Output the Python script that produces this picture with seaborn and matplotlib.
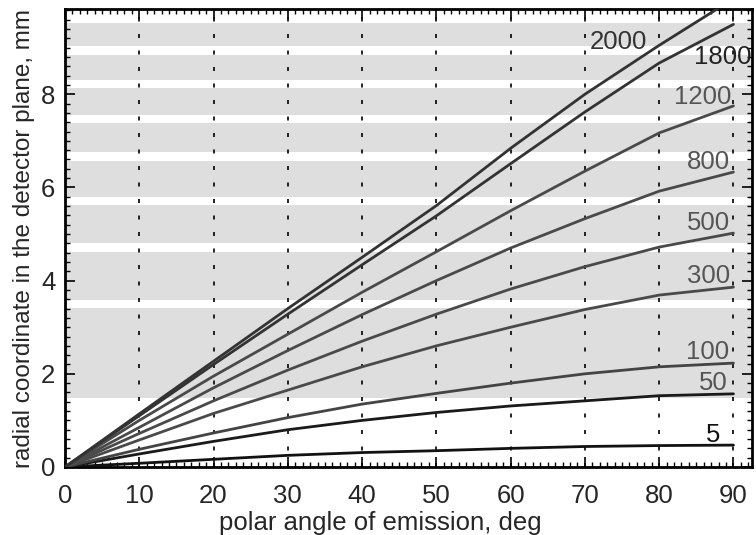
import matplotlib
matplotlib.use("Agg")
import matplotlib.pyplot as plt
import matplotlib.ticker as mticker
import seaborn as sns
import pandas as pd

# ---- data ----
angles = [0, 10, 20, 30, 40, 50, 60, 70, 80, 90]
energies = ["5", "50", "100", "300", "500", "800", "1200", "1800", "2000"]
r_5    = [0, 0.08, 0.165, 0.25, 0.31, 0.35, 0.40, 0.44, 0.46, 0.47]
r_50   = [0, 0.28, 0.55, 0.80, 1.00, 1.17, 1.31, 1.42, 1.53, 1.57]
r_100  = [0, 0.38, 0.73, 1.06, 1.35, 1.58, 1.80, 2.00, 2.15, 2.23]
r_300  = [0, 0.58, 1.15, 1.65, 2.15, 2.60, 3.00, 3.38, 3.69, 3.86]
r_500  = [0, 0.72, 1.42, 2.08, 2.70, 3.28, 3.82, 4.30, 4.72, 5.02]
r_800  = [0, 0.85, 1.70, 2.50, 3.27, 4.00, 4.70, 5.33, 5.92, 6.33]
r_1200 = [0, 1.00, 1.95, 2.85, 3.75, 4.62, 5.50, 6.35, 7.17, 7.75]
r_1800 = [0, 1.10, 2.20, 3.28, 4.34, 5.39, 6.51, 7.62, 8.67, 9.50]
r_2000 = [0, 1.14, 2.27, 3.40, 4.50, 5.61, 6.84, 8.00, 9.05, 10.05]
series = [r_5, r_50, r_100, r_300, r_500, r_800, r_1200, r_1800, r_2000]

# detector ring bands (radial extents, mm)
band_lo = [1.48, 3.58, 4.81, 5.79, 6.76, 7.55, 8.30, 9.03]
band_hi = [3.41, 4.61, 5.62, 6.57, 7.38, 8.13, 8.84, 9.53]

# curve labels
label_x = [87.3, 87.3, 86.5, 86.6, 86.6, 86.6, 85.9, 88.6, 74.5]
label_y = [0.69, 1.80, 2.47, 4.10, 5.24, 6.55, 7.94, 8.80, 9.12]
label_c = ["#111111", "#555555", "#555555", "#555555", "#555555",
           "#555555", "#555555", "#222222", "#333333"]

rows = []
for e, vals in zip(energies, series):
    for a, v in zip(angles, vals):
        rows.append({"angle": a, "r": v, "energy": e})
df = pd.DataFrame(rows)

sns.set_theme(style="white")
plt.rcParams["font.family"] = ["Liberation Sans", "DejaVu Sans"]

fig = plt.figure(figsize=(7.56, 5.35), dpi=100)
ax = fig.add_axes([65 / 756, 1 - 467 / 535, (752 - 65) / 756, (467 - 9) / 535])

for lo, hi in zip(band_lo, band_hi):
    ax.axhspan(lo, hi, color="#dedede", zorder=0, lw=0)

for xv in angles[1:]:
    ax.axvline(xv, color="black", lw=1.2, ls=(0, (2.4, 7.5)), zorder=1)

line_colors = ["#111111", "#1a1a1a", "#444444", "#4a4a4a", "#4a4a4a",
               "#4a4a4a", "#4a4a4a", "#333333", "#333333"]
sns.lineplot(data=df, x="angle", y="r", hue="energy", hue_order=energies,
             palette=dict(zip(energies, line_colors)), lw=2.0,
             legend=False, ax=ax, zorder=3)

for t, x, y, c in zip(energies, label_x, label_y, label_c):
    ax.text(x, y, t, color=c, fontsize=18.5, ha="center", va="center", zorder=4)

ax.set_xlim(0, 92.5)
ax.set_ylim(0, 9.83)
ax.xaxis.set_major_locator(mticker.MultipleLocator(10))
ax.xaxis.set_minor_locator(mticker.MultipleLocator(1))
ax.yaxis.set_major_locator(mticker.MultipleLocator(2))
ax.yaxis.set_minor_locator(mticker.MultipleLocator(0.2))
ax.tick_params(which="both", direction="in", top=True, right=True,
               bottom=True, left=True, color="black")
ax.tick_params(which="major", length=7, width=1.2, labelsize=18.5)
ax.tick_params(axis="x", which="major", pad=12)
ax.tick_params(axis="y", which="major", pad=7)
ax.tick_params(which="minor", length=3.5, width=1.0)

for s in ax.spines.values():
    s.set_color("black")
    s.set_linewidth(2.0)

ax.set_xlabel("polar angle of emission, deg", fontsize=18.5)
ax.xaxis.set_label_coords((380 - 65) / 687, -0.097)
ax.set_ylabel("radial coordinate in the detector plane, mm", fontsize=17.5, labelpad=4)

fig.savefig("out.png", dpi=100)
